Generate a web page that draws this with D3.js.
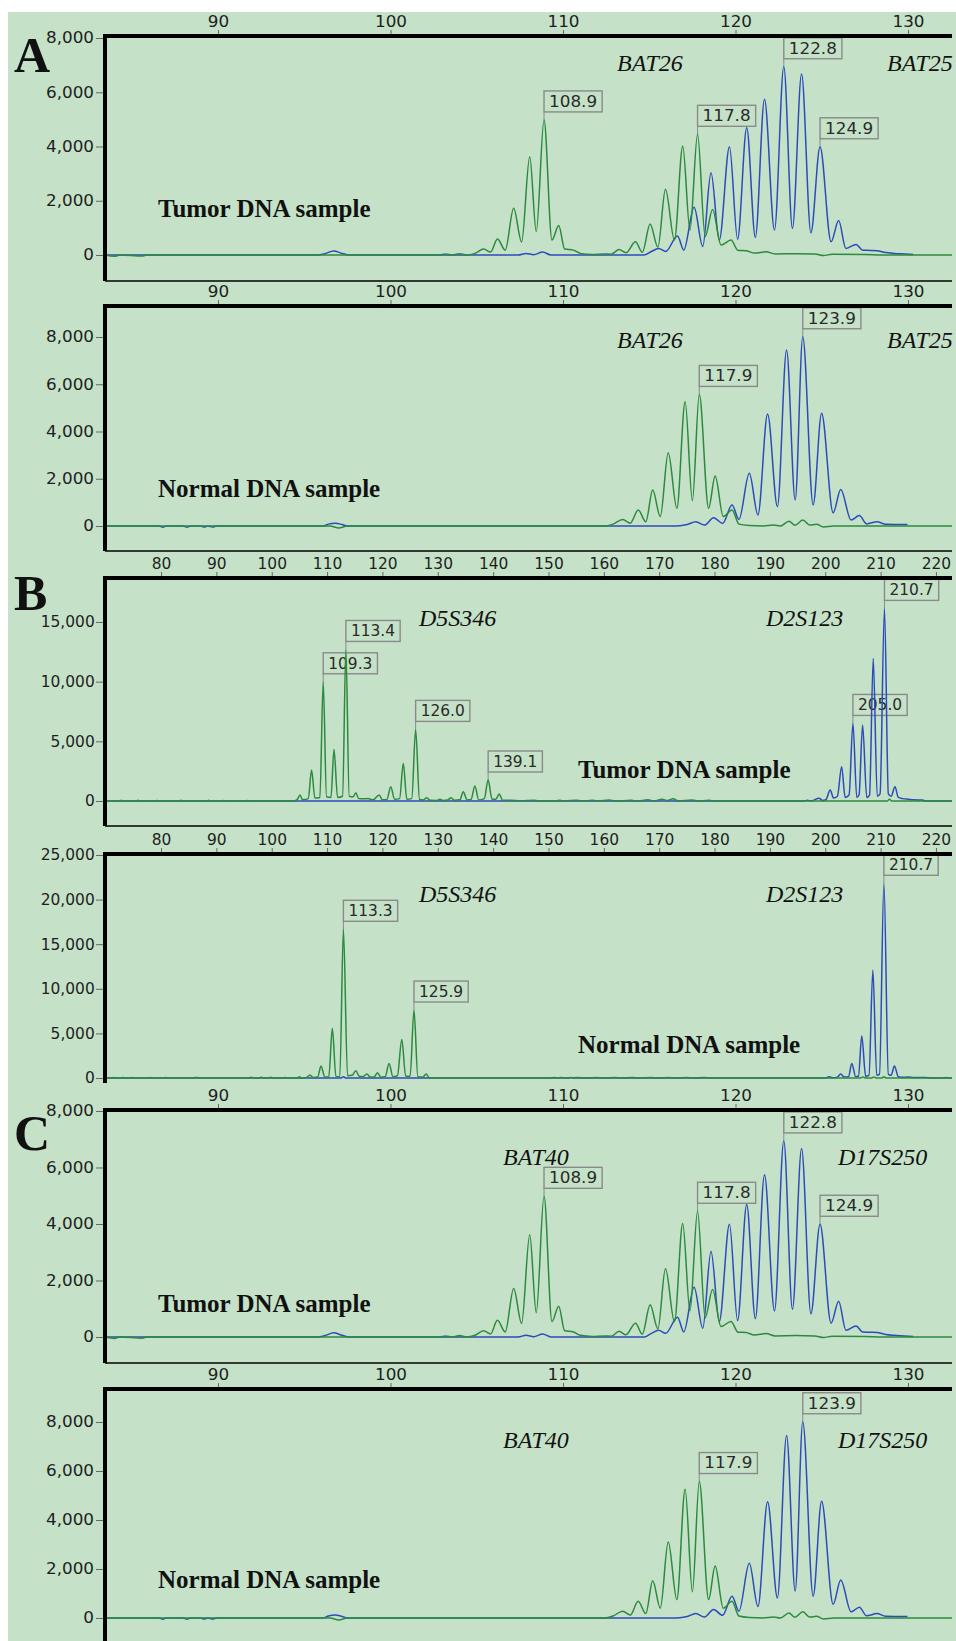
<!DOCTYPE html>
<html>
<head>
<meta charset="utf-8">
<script src="https://cdn.jsdelivr.net/npm/d3@7"></script>
<style>
  body { margin: 0; background: #fff; }
  svg { display: block; }
</style>
</head>
<body>
<script>
const W = 956;
const H = 1641;
const bgColor = '#c5e2c8';
const greenDye = '#2b8a3d';
const blueDye = '#2c4bbb';

// size (bp) and signal (RFU): peaks, valleys, baseline
const tumorGreenA = [[83.45,0],[84.0,-50],[84.3,0],[85.6,-40],[85.9,0],[102.8,0],[103.2,40],[103.6,0],[104.0,50],[104.4,0],[104.9,60],[105.4,220],[105.8,110],[106.2,590],[106.65,180],[107.14,1720],[107.6,480],[108.07,3620],[108.45,860],[108.9,4980],[109.36,550],[109.75,1090],[110.1,220],[110.6,180],[111.0,60],[111.7,20],[112.4,40],[112.8,30],[113.25,200],[113.65,80],[114.2,490],[114.6,100],[115.05,1140],[115.5,290],[115.94,2420],[116.46,550],[116.94,4020],[117.36,920],[117.8,4450],[118.24,680],[118.67,1680],[119.16,370],[119.74,550],[120.15,170],[120.6,160],[121.1,70],[121.77,120],[122.3,40],[123.5,50],[124.6,40],[125.1,-20],[125.6,30],[127.5,20],[128.5,0],[132.55,0]];
const tumorBlueA = [[83.45,0],[95.8,0],[96.2,50],[96.7,150],[97.2,60],[97.6,0],[107.4,0],[107.86,60],[108.3,10],[108.82,110],[109.3,0],[114.7,0],[115.1,120],[115.55,240],[115.95,130],[116.64,700],[117.0,180],[117.6,1760],[118.1,310],[118.58,3030],[119.06,550],[119.65,3990],[120.12,580],[120.65,4690],[121.15,650],[121.68,5740],[122.26,920],[122.8,6940],[123.3,980],[123.83,6670],[124.37,820],[124.9,3990],[125.54,490],[125.98,1270],[126.4,240],[126.99,390],[127.37,180],[127.8,170],[128.2,160],[128.7,90],[129.2,60],[129.8,40],[130.3,20]];
const normalGreenA = [[83.45,0],[96.5,0],[97.0,-80],[97.5,0],[112.4,0],[112.9,80],[113.46,280],[113.9,120],[114.36,680],[114.8,180],[115.2,1520],[115.64,400],[116.1,3100],[116.6,750],[117.08,5260],[117.5,1070],[117.9,5570],[118.44,750],[118.82,2120],[119.29,400],[119.8,680],[120.2,80],[120.8,20],[121.6,0],[122.2,40],[122.6,0],[123.1,200],[123.45,30],[123.9,250],[124.3,40],[124.7,70],[125.1,-40],[125.7,0],[132.55,0]];
const normalBlueA = [[83.45,0],[86.6,0],[86.8,-50],[87.0,0],[88.0,0],[88.2,-50],[88.4,0],[89.0,0],[89.2,-40],[89.4,0],[89.7,-40],[89.9,0],[96.1,0],[96.4,80],[96.8,120],[97.2,60],[97.5,0],[116.6,0],[117.2,60],[117.7,180],[118.2,40],[118.73,350],[119.25,110],[119.8,890],[120.2,280],[120.8,2230],[121.3,470],[121.86,4740],[122.43,820],[122.96,7450],[123.46,1100],[123.9,8010],[124.5,890],[124.99,4770],[125.66,560],[126.1,1550],[126.7,250],[127.18,440],[127.6,90],[128.2,180],[128.7,70],[129.97,60]];

const tumorGreenB = [[69.88,0],[72.5,0],[72.8,60],[73.1,0],[75.5,0],[75.8,60],[76.1,0],[79,0],[79.3,50],[79.6,0],[83.3,0],[83.6,60],[83.9,0],[88.3,0],[88.6,60],[88.9,0],[91,0],[91.3,50],[91.6,0],[95.3,0],[95.6,40],[95.9,0],[103.8,0],[104.6,120],[105.1,500],[105.6,100],[106.6,200],[107.2,2600],[107.8,250],[108.7,300],[109.3,9990],[109.9,350],[110.7,300],[111.25,4330],[111.9,300],[112.8,400],[113.4,12700],[114.0,400],[114.7,350],[115.2,700],[115.7,200],[116.6,180],[117.4,200],[118.3,100],[119.4,500],[120.0,100],[120.8,120],[121.5,1200],[122.2,150],[123.1,200],[123.77,3150],[124.4,150],[125.3,200],[126.0,6000],[126.7,120],[127.4,80],[128.0,280],[128.6,60],[129.8,50],[130.4,150],[131.0,50],[131.8,80],[132.4,280],[133.0,70],[134.0,100],[134.6,780],[135.3,90],[136.0,120],[136.7,1260],[137.4,90],[138.4,200],[139.1,1760],[139.8,150],[140.5,150],[141.1,590],[141.7,60],[143.0,70],[145.0,20],[147.5,60],[148.5,0],[151,0],[152,60],[153,0],[155,70],[156,0],[158,60],[159,0],[161,80],[162,0],[165,60],[166,0],[168,100],[169,0],[170.5,150],[171.5,40],[172.5,180],[173.5,0],[176,80],[177,0],[179,60],[180,0],[211.2,0],[211.6,150],[212.0,0],[222.9,0]];
const tumorBlueB = [[69.88,0],[196.2,0],[196.8,60],[197.4,0],[198.9,220],[199.5,50],[200.1,100],[200.9,920],[201.5,250],[202.2,400],[202.96,2870],[203.6,300],[204.3,500],[205.0,6500],[205.7,300],[206.1,500],[206.75,6360],[207.5,300],[208.0,500],[208.67,11950],[209.4,400],[209.9,600],[210.7,16140],[211.4,600],[211.9,400],[212.6,1200],[213.2,300],[214.0,200],[215.0,150],[216.0,100],[217.5,80],[218.2,0],[222.9,0]];
const normalGreenB = [[69.88,0],[71.2,0],[71.5,60],[71.8,0],[72.8,0],[73.1,60],[73.4,0],[74.5,0],[74.8,60],[75.1,0],[77.8,0],[78.1,60],[78.4,0],[80.5,0],[80.8,60],[81.1,0],[85.8,0],[86.2,70],[86.6,50],[87.0,0],[102.1,0],[102.4,60],[102.7,0],[104.6,0],[105.0,150],[105.4,0],[106.3,60],[106.9,340],[107.5,60],[108.3,100],[108.9,1350],[109.6,100],[110.3,100],[110.95,5570],[111.6,150],[112.3,150],[112.95,16670],[113.7,250],[114.5,300],[115.2,820],[115.8,200],[116.5,150],[117.2,450],[117.8,100],[118.5,100],[119.1,600],[119.7,100],[120.5,150],[121.2,1640],[121.9,150],[122.7,250],[123.5,4330],[124.2,200],[125.0,200],[125.7,7620],[126.4,150],[127.3,100],[127.9,450],[128.5,0],[151.5,0],[152.3,60],[153,0],[155.5,60],[156.3,0],[158.8,60],[159.6,0],[162.1,60],[162.9,0],[165.3,60],[166.1,0],[168.6,60],[169.4,0],[171.8,60],[172.6,0],[175.1,60],[175.9,0],[178.3,60],[179,0],[206.4,0],[206.8,120],[207.2,0],[208.4,0],[208.8,120],[209.2,0],[210.2,0],[210.6,150],[211.0,0],[222.9,0]];
const normalBlueB = [[69.88,0],[96,0],[96.3,80],[96.6,0],[97.8,0],[98.1,80],[98.4,0],[99.5,0],[99.8,80],[100.1,0],[112.5,0],[112.95,150],[113.4,0],[150.5,0],[151,60],[151.5,0],[153.5,0],[154,60],[154.5,0],[200.0,0],[200.7,150],[201.3,20],[202.2,100],[202.8,450],[203.4,100],[204.2,150],[204.8,1640],[205.5,150],[206.0,200],[206.6,4710],[207.3,200],[207.9,300],[208.6,12100],[209.3,300],[209.8,400],[210.6,21830],[211.4,400],[211.9,300],[212.5,1350],[213.2,150],[214.0,80],[215.0,100],[216.0,50],[218.0,50],[219.5,0],[221.5,0],[221.8,60],[222.1,0],[222.9,0]];

// peak size labels: [text, size at apex, apex RFU]
const peakLabelsTumorA = [['108.9',108.9,4980],['117.8',117.8,4450],['122.8',122.8,6940],['124.9',124.9,3990]];
const peakLabelsNormalA = [['117.9',117.9,5570],['123.9',123.9,8010]];
const peakLabelsTumorB = [['109.3',109.3,9990],['113.4',113.4,12700],['126.0',126.0,6000],['139.1',139.1,1760],['205.0',205.0,6500],['210.7',210.7,16140]];
const peakLabelsNormalB = [['113.3',112.95,16670],['125.9',125.7,7620],['210.7',210.6,21830]];

// axis ticks
const sizeTicksA = [90, 100, 110, 120, 130];
const sizeTicksB = [80, 90, 100, 110, 120, 130, 140, 150, 160, 170, 180, 190, 200, 210, 220];
const rfuTicks8k = [0, 2000, 4000, 6000, 8000];
const rfuTicks15k = [0, 5000, 10000, 15000];
const rfuTicks25k = [0, 5000, 10000, 15000, 20000, 25000];

const markersA = ['BAT26', 'BAT25'];
const markersB = ['D5S346', 'D2S123'];
const markersC = ['BAT40', 'D17S250'];

// layout
const left = 105;
const right = 952;
const axisA = { domain: [83.45, 132.55], ticks: sizeTicksA, minor: 2.5, sx: 1.12 };
const axisB = { domain: [69.88, 222.9], ticks: sizeTicksB, minor: 2, sx: 1.03 };

const panels = [
  { top: 36, bottom: 281, axis: axisA, yDomain: [-958, 8074], yTicks: rfuTicks8k, yMinor: 500,
    green: tumorGreenA, blue: tumorBlueA, labels: peakLabelsTumorA,
    markers: markersA, markerX: [617, 887], markerY: 71,
    sample: 'Tumor DNA sample', sampleX: 158, sampleY: 217, letter: 'A', letterY: 72, bottomLine: true },
  { top: 306, bottom: 551, axis: axisA, yDomain: [-1058, 9312], yTicks: rfuTicks8k, yMinor: 500,
    green: normalGreenA, blue: normalBlueA, labels: peakLabelsNormalA,
    markers: markersA, markerX: [617, 887], markerY: 348,
    sample: 'Normal DNA sample', sampleX: 158, sampleY: 497, bottomLine: true },
  { top: 578, bottom: 826, axis: axisB, yDomain: [-2095, 18687], yTicks: rfuTicks15k, yMinor: 1000,
    green: tumorGreenB, blue: tumorBlueB, labels: peakLabelsTumorB,
    markers: markersB, markerX: [419, 766], markerY: 626,
    sample: 'Tumor DNA sample', sampleX: 578, sampleY: 778, letter: 'B', letterY: 610, bottomLine: true },
  { top: 854, bottom: 1083, axis: axisB, yDomain: [-560, 25112], yTicks: rfuTicks25k, yMinor: 1000,
    green: normalGreenB, blue: normalBlueB, labels: peakLabelsNormalB,
    markers: markersB, markerX: [419, 766], markerY: 902,
    sample: 'Normal DNA sample', sampleX: 578, sampleY: 1053, bottomLine: false },
  { top: 1110, bottom: 1363, axis: axisA, yDomain: [-920, 8035], yTicks: rfuTicks8k, yMinor: 500,
    green: tumorGreenA, blue: tumorBlueA, labels: peakLabelsTumorA,
    markers: markersC, markerX: [503, 838], markerY: 1165,
    sample: 'Tumor DNA sample', sampleX: 158, sampleY: 1312, letter: 'C', letterY: 1150, bottomLine: true },
  { top: 1389, bottom: 1641, axis: axisA, yDomain: [-939, 9347], yTicks: rfuTicks8k, yMinor: 500,
    green: normalGreenA, blue: normalBlueA, labels: peakLabelsNormalA,
    markers: markersC, markerX: [503, 838], markerY: 1448,
    sample: 'Normal DNA sample', sampleX: 158, sampleY: 1588, bottomLine: false },
];

const svg = d3.select('body').append('svg').attr('width', W).attr('height', H);
svg.append('rect').attr('x', 8).attr('y', 12).attr('width', W - 8).attr('height', H - 12).attr('fill', bgColor);

panels.forEach(drawPanel);

function styleTicks(g, sx) {
  g.attr('font-family', 'DejaVu Sans').attr('font-size', 15);
  g.selectAll('.domain').remove();
  g.selectAll('line').attr('stroke', '#666');
  g.selectAll('text').attr('fill', '#1e1e1e').attr('transform', `scale(${sx},1)`);
}

function drawPanel(p, i) {
  const ax = p.axis;
  const x = d3.scaleLinear().domain(ax.domain).range([left, right]);
  const y = d3.scaleLinear().domain(p.yDomain).range([p.bottom, p.top]);

  svg.append('clipPath').attr('id', 'clip' + i)
    .append('rect').attr('x', left).attr('y', p.top).attr('width', right - left).attr('height', p.bottom - p.top);

  // peak size boxes
  const lg = svg.append('g');
  p.labels.forEach(([txt, size, rfu]) => {
    const px = x(size);
    const py = y(rfu);
    const bh = 21;
    const by = py - 8 - bh;
    const t = lg.append('text')
      .attr('font-family', 'DejaVu Sans').attr('font-size', 15).attr('fill', '#2a2a2a')
      .attr('dy', '0.36em')
      .text(txt);
    const bw = t.node().getComputedTextLength() * ax.sx + 10;
    t.attr('transform', `translate(${px + 5},${by + bh / 2}) scale(${ax.sx},1)`);
    lg.insert('rect', 'text').attr('x', px).attr('y', by).attr('width', bw).attr('height', bh)
      .attr('fill', 'none').attr('stroke', '#8a8a8a').attr('stroke-width', 1.4);
    lg.append('line').attr('x1', px).attr('x2', px).attr('y1', by + bh).attr('y2', py)
      .attr('stroke', '#8a8a8a').attr('stroke-width', 1);
  });

  const line = d3.line().x(d => x(d[0])).y(d => y(d[1])).curve(d3.curveMonotoneX);
  const tg = svg.append('g').attr('clip-path', `url(#clip${i})`);
  tg.append('path').datum(p.blue).attr('d', line)
    .attr('fill', 'none').attr('stroke', blueDye).attr('stroke-width', 1.5);
  tg.append('path').datum(p.green).attr('d', line)
    .attr('fill', 'none').attr('stroke', greenDye).attr('stroke-width', 1.5);

  // top size axis
  const topG = svg.append('g').attr('transform', `translate(0,${p.top - 2})`);
  topG.call(d3.axisTop(x).tickValues(d3.range(Math.ceil(ax.domain[0] / ax.minor) * ax.minor, ax.domain[1], ax.minor))
    .tickSize(3).tickSizeOuter(0).tickFormat(''));
  topG.call(d3.axisTop(x).tickValues(ax.ticks).tickSize(4).tickPadding(3).tickSizeOuter(0));
  styleTicks(topG, ax.sx);

  // left RFU axis
  const leftG = svg.append('g').attr('transform', `translate(${left - 2},0)`);
  const yMin = Math.ceil(p.yDomain[0] / p.yMinor) * p.yMinor;
  leftG.call(d3.axisLeft(y).tickValues(d3.range(yMin, p.yDomain[1], p.yMinor)).tickSize(3).tickSizeOuter(0).tickFormat(''));
  leftG.call(d3.axisLeft(y).tickValues(p.yTicks).tickSize(7).tickPadding(1).tickSizeOuter(0).tickFormat(d3.format(',')));
  styleTicks(leftG, ax.sx);

  // frame
  svg.append('line').attr('x1', left - 2).attr('x2', right).attr('y1', p.top).attr('y2', p.top)
    .attr('stroke', '#000').attr('stroke-width', 4);
  svg.append('line').attr('x1', left).attr('x2', left).attr('y1', p.top - 2).attr('y2', p.bottom)
    .attr('stroke', '#000').attr('stroke-width', 4);
  if (p.bottomLine) {
    svg.append('line').attr('x1', left).attr('x2', right).attr('y1', p.bottom).attr('y2', p.bottom)
      .attr('stroke', '#000').attr('stroke-width', 1.5);
  }

  // annotations
  p.markers.forEach((m, k) => {
    svg.append('text').attr('x', p.markerX[k]).attr('y', p.markerY)
      .attr('font-family', 'Liberation Serif').attr('font-style', 'italic').attr('font-size', 24)
      .attr('fill', '#111').text(m);
  });
  svg.append('text').attr('x', p.sampleX).attr('y', p.sampleY)
    .attr('font-family', 'Liberation Serif').attr('font-weight', 'bold').attr('font-size', 25)
    .attr('fill', '#111').text(p.sample);
  if (p.letter) {
    svg.append('text').attr('x', 14).attr('y', p.letterY)
      .attr('font-family', 'Liberation Serif').attr('font-weight', 'bold').attr('font-size', 50)
      .attr('fill', '#111').text(p.letter);
  }
}
</script>
</body>
</html>
